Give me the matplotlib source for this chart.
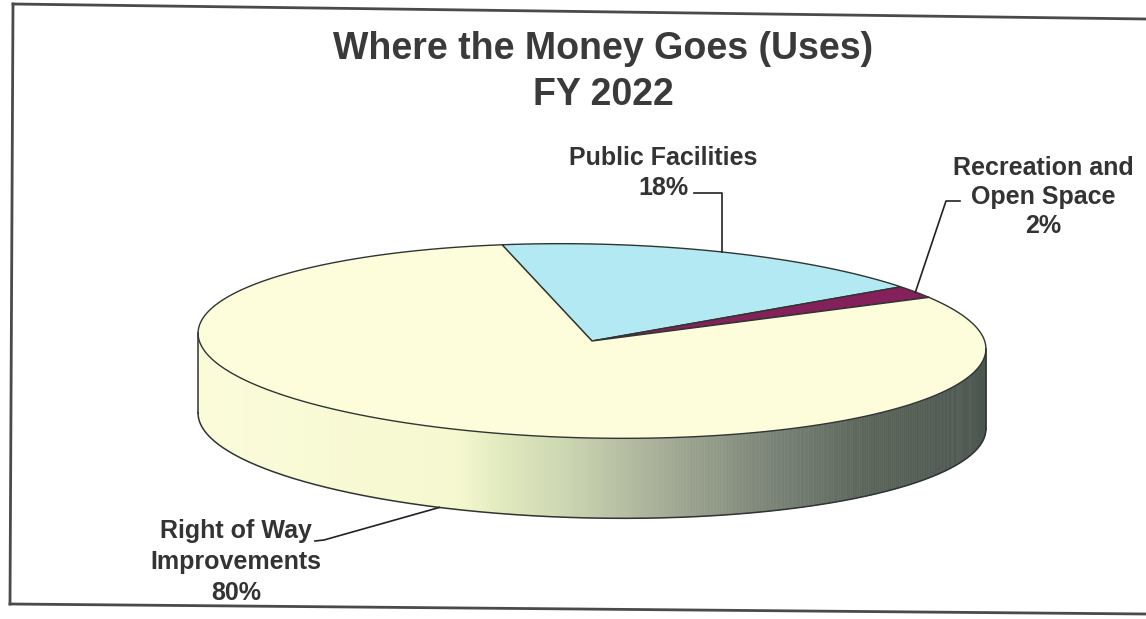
import numpy as np
import matplotlib
matplotlib.use("Agg")
import matplotlib.pyplot as plt
from matplotlib.collections import PolyCollection
from matplotlib.colors import LinearSegmentedColormap

# ---- data -------------------------------------------------------------
categories = ["Public Facilities", "Recreation and\nOpen Space", "Right of Way\nImprovements"]
shares = [18, 2, 80]
top_colors = ["#b2e9f2", "#84205a", "#fdfddc"]
title_lines = ["Where the Money Goes (Uses)", "FY 2022"]

# ---- canvas -----------------------------------------------------------
W, H = 1146, 619
fig = plt.figure(figsize=(W / 100, H / 100), dpi=100)
ax = fig.add_axes([0, 0, 1, 1])
ax.set_xlim(0, W)
ax.set_ylim(H, 0)
ax.axis("off")

FONT = ["Liberation Sans", "DejaVu Sans"]
INK = "#333333"

# ---- 3-D pie geometry ----------------------------------------------------
CX, CY, RX, RY, DEPTH = 592, 341, 394, 97, 80
TILT = np.deg2rad(1.2)
START = 103.5


def rim(t_deg, drop=0.0):
    t = np.deg2rad(np.asarray(t_deg, dtype=float))
    ex = RX * np.cos(t)
    ey = -RY * np.sin(t)
    x = CX + ex * np.cos(TILT) - ey * np.sin(TILT)
    y = CY + ex * np.sin(TILT) + ey * np.cos(TILT) + drop
    return x, y


total = float(sum(shares))
bounds = START - 360.0 * np.concatenate([[0], np.cumsum(shares)]) / total
mids = (bounds[:-1] + bounds[1:]) / 2

# side wall shading (light from the left)
side_cmap = LinearSegmentedColormap.from_list(
    "side",
    [(0.00, "#fbfbda"), (0.33, "#f5f8cf"), (0.38, "#e3ebbf"),
     (0.47, "#cbd5b1"), (0.58, "#a9b199"), (0.72, "#7e867a"),
     (0.85, "#5b6559"), (1.00, "#4c5650")],
)
x_left = rim(180)[0]
x_right = rim(0)[0]

for hi, lo in zip(bounds[:-1], bounds[1:]):
    # portions of this wedge's arc lying on the front half
    for k in range(-2, 2):
        f_lo, f_hi = -180 + 360 * k, 360 * k
        a, b = max(lo, f_lo), min(hi, f_hi)
        if b <= a:
            continue
        ts = np.linspace(a, b, 400)
        xs, ys = rim(ts)
        xb, yb = rim(ts, DEPTH)
        polys, cols = [], []
        for i in range(len(ts) - 1):
            polys.append([(xs[i], ys[i]), (xs[i + 1], ys[i + 1]),
                          (xb[i + 1], yb[i + 1]), (xb[i], yb[i])])
            xm = 0.5 * (xs[i] + xs[i + 1])
            cols.append(side_cmap((xm - x_left) / (x_right - x_left)))
        ax.add_collection(PolyCollection(polys, facecolors=cols, edgecolors=cols,
                                         linewidths=0.4, zorder=2))

EDGE = "#2f3533"
# side outline
ts = np.linspace(-180, 0, 400)
xb, yb = rim(ts, DEPTH)
ax.plot(xb, yb, color=EDGE, lw=1.1, zorder=4)
for t in (180, 0):
    x0, y0 = rim(t)
    x1, y1 = rim(t, DEPTH)
    ax.plot([x0, x1], [y0, y1], color=EDGE, lw=1.1, zorder=4)

# top face wedges
for hi, lo, col in zip(bounds[:-1], bounds[1:], top_colors):
    ts = np.linspace(lo, hi, 300)
    xs, ys = rim(ts)
    px = np.concatenate([[CX], xs])
    py = np.concatenate([[CY], ys])
    ax.fill(px, py, facecolor=col, edgecolor=EDGE, lw=1.0, zorder=3)

# ---- labels with leader lines --------------------------------------------
lab_fs = 18
LEAD = "#222222"

# Public Facilities
ax.text(663, 173, f"{categories[0]}\n{shares[0]}%", ha="center", va="center",
        fontsize=lab_fs, fontweight="bold", color=INK, family=FONT,
        linespacing=1.28, zorder=5)
ax_x, ax_y = rim(mids[0])
ax.plot([694, ax_x, ax_x], [193, 193, ax_y], color=LEAD, lw=1.2, zorder=5)

# Recreation and Open Space
ax.text(1043, 197, f"{categories[1]}\n{shares[1]}%", ha="center", va="center",
        fontsize=lab_fs, fontweight="bold", color=INK, family=FONT,
        linespacing=1.28, zorder=5)
ax_x, ax_y = rim(mids[1])
ax.plot([960, 946, ax_x], [201, 201, ax_y], color=LEAD, lw=1.2, zorder=5)

# Right of Way Improvements
ax.text(236, 562, f"{categories[2]}\n{shares[2]}%", ha="center", va="center",
        fontsize=lab_fs, fontweight="bold", color=INK, family=FONT,
        linespacing=1.38, zorder=5)
ax_x, ax_y = rim(mids[2], DEPTH)
ax.plot([315, 324, ax_x], [541, 540, ax_y], color=LEAD, lw=1.2, zorder=5)

# ---- title ------------------------------------------------------------------
ax.text(603, 72, "\n".join(title_lines), ha="center", va="center",
        fontsize=27, fontweight="bold", color="#3a3a3a", family=FONT,
        linespacing=1.33, zorder=5)

# ---- page frame ---------------------------------------------------------------
FRAME = "#4a4a4a"
ax.plot([13, 1146], [4, 19], color=FRAME, lw=2, zorder=6)
ax.plot([13, 10], [4, 604], color=FRAME, lw=2, zorder=6)
ax.plot([10, 1146], [604, 614], color=FRAME, lw=2, zorder=6)

fig.savefig("out.png", dpi=100, facecolor="white")
